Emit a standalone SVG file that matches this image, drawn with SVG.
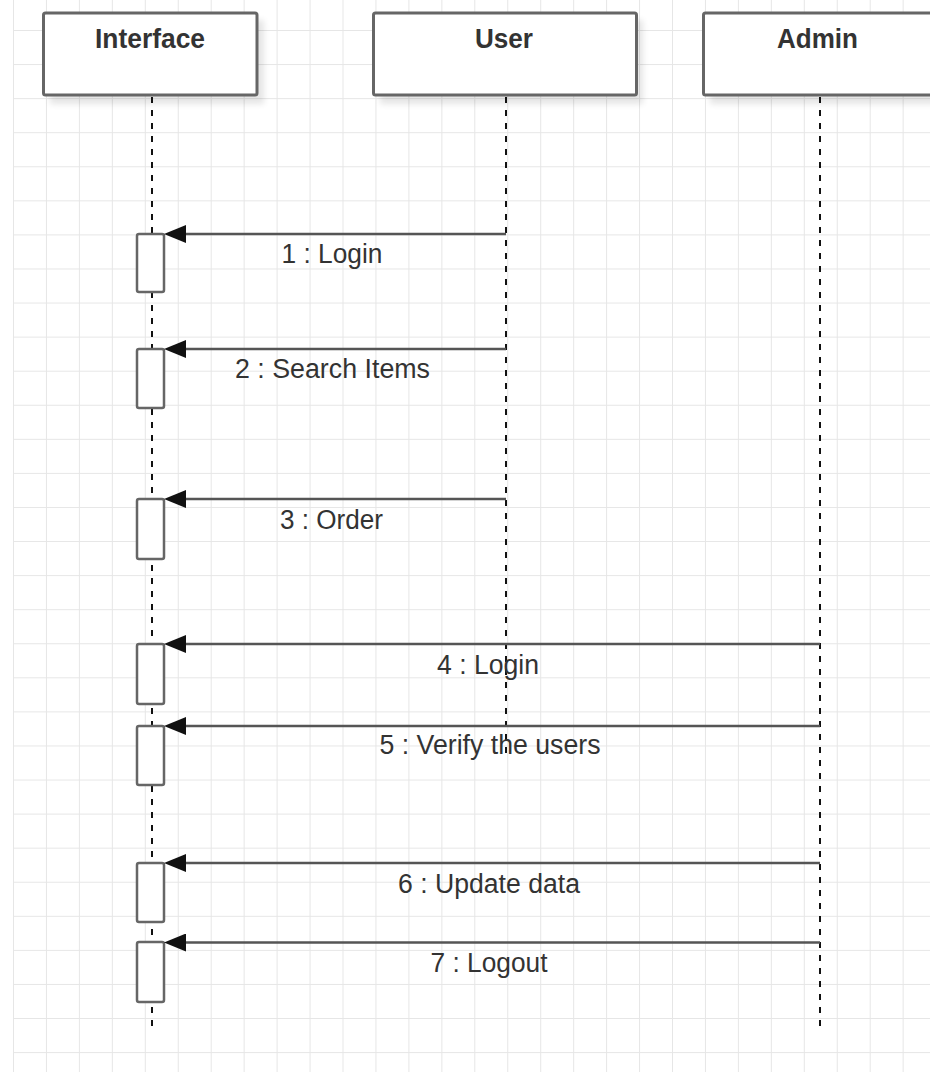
<svg xmlns="http://www.w3.org/2000/svg" width="930" height="1072" viewBox="0 0 930 1072">
<style>
.hdr{fill:#fff;stroke:#666;stroke-width:3}
.hdrtxt{font-family:"Liberation Sans",Arial,sans-serif;font-size:27px;font-weight:bold;fill:#333;text-anchor:middle}
.life{stroke:#111;stroke-width:2;stroke-dasharray:6 7;fill:none}
.act{fill:#fff;stroke:#666;stroke-width:2.5}
.msg{stroke:#555;stroke-width:2.5;fill:none;marker-end:url(#arrow)}
.lbl{font-family:"Liberation Sans",Arial,sans-serif;font-size:27px;fill:#333;text-anchor:middle}
.shadow{fill:#000;opacity:0.1;filter:url(#blur)}
</style>
<defs>
<pattern id="grid" x="13" y="30" width="32.95" height="34.07" patternUnits="userSpaceOnUse">
<path d="M0.5 0V34.07M0 0.5H32.95" stroke="#e6e6e6" stroke-width="1" fill="none"/>
</pattern>
<filter id="blur" x="-10%" y="-10%" width="120%" height="130%"><feGaussianBlur stdDeviation="3"/></filter>
<marker id="arrow" markerUnits="userSpaceOnUse" markerWidth="22" markerHeight="18" refX="14" refY="9" orient="auto">
<path d="M0 0L22 9L0 18Z" fill="#111"/>
</marker>
</defs>
<rect width="930" height="1072" fill="#fff"/>
<rect x="13" y="0" width="917" height="1072" fill="url(#grid)"/>

<g id="interface">
<rect class="shadow" x="50" y="20" width="214" height="84"/>
<rect class="hdr" x="43.5" y="13" width="213.5" height="82" rx="2"/>
<text class="hdrtxt" x="150" y="48" textLength="110" lengthAdjust="spacingAndGlyphs">Interface</text>
<line class="life" x1="152" y1="97" x2="152" y2="1032"/>
</g>
<g id="user">
<rect class="shadow" x="380" y="20" width="263" height="84"/>
<rect class="hdr" x="373.5" y="13" width="263" height="82" rx="2"/>
<text class="hdrtxt" x="504" y="48" textLength="58" lengthAdjust="spacingAndGlyphs">User</text>
<line class="life" x1="506" y1="97" x2="506" y2="753"/>
</g>
<g id="admin">
<rect class="shadow" x="710" y="20" width="234" height="84"/>
<rect class="hdr" x="703.5" y="13" width="234" height="82" rx="2"/>
<text class="hdrtxt" x="817.5" y="48" textLength="81" lengthAdjust="spacingAndGlyphs">Admin</text>
<line class="life" x1="820" y1="97" x2="820" y2="1032"/>
</g>

<g id="activations">
<rect class="act" x="137" y="234" width="27" height="58" rx="2"/>
<rect class="act" x="137" y="349" width="27" height="59" rx="2"/>
<rect class="act" x="137" y="499" width="27" height="60" rx="2"/>
<rect class="act" x="137" y="644" width="27" height="60" rx="2"/>
<rect class="act" x="137" y="726" width="27" height="59" rx="2"/>
<rect class="act" x="137" y="863" width="27" height="59" rx="2"/>
<rect class="act" x="137" y="942" width="27" height="60" rx="2"/>
</g>

<g id="connectors">
<line class="msg" x1="506" y1="234" x2="172" y2="234"/>
<text class="lbl" x="332" y="263" textLength="101" lengthAdjust="spacingAndGlyphs">1 : Login</text>
<line class="msg" x1="506" y1="349" x2="172" y2="349"/>
<text class="lbl" x="332.5" y="378" textLength="195" lengthAdjust="spacingAndGlyphs">2 : Search Items</text>
<line class="msg" x1="506" y1="499" x2="172" y2="499"/>
<text class="lbl" x="331.5" y="529" textLength="103" lengthAdjust="spacingAndGlyphs">3 : Order</text>
<line class="msg" x1="820" y1="644" x2="172" y2="644"/>
<text class="lbl" x="488" y="674" textLength="102" lengthAdjust="spacingAndGlyphs">4 : Login</text>
<line class="msg" x1="820" y1="726" x2="172" y2="726"/>
<text class="lbl" x="490" y="754" textLength="221" lengthAdjust="spacingAndGlyphs">5 : Verify the users</text>
<line class="msg" x1="820" y1="863" x2="172" y2="863"/>
<text class="lbl" x="489" y="893" textLength="182" lengthAdjust="spacingAndGlyphs">6 : Update data</text>
<line class="msg" x1="820" y1="942.5" x2="172" y2="942.5"/>
<text class="lbl" x="489" y="972" textLength="117" lengthAdjust="spacingAndGlyphs">7 : Logout</text>
</g>
</svg>
